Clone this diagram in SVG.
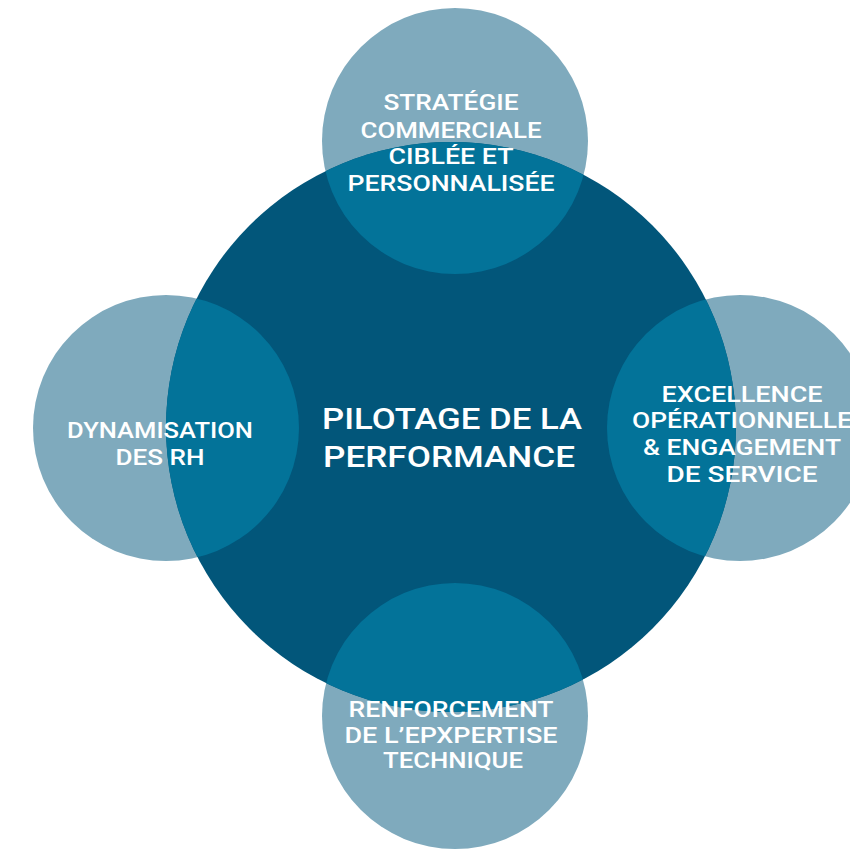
<svg xmlns="http://www.w3.org/2000/svg" width="850" height="849" viewBox="0 0 850 849">
<style>
.light{fill:#7faabd}
.dark{fill:#02567a}
.ov{fill:#037399}
text{font-family:Roboto,"Liberation Sans",sans-serif;fill:#ffffff;text-anchor:middle;font-weight:500}
.s{font-size:22px}
.m{font-size:29px}
</style>
<defs>
<clipPath id="bigclip"><circle cx="451" cy="427" r="285"/></clipPath>
</defs>
<rect width="850" height="849" fill="#ffffff"/>
<g id="small-circles">
<circle class="light" cx="455" cy="141" r="133"/>
<circle class="light" cx="166" cy="428" r="133"/>
<circle class="light" cx="740" cy="428" r="133"/>
<circle class="light" cx="455" cy="716" r="133"/>
</g>
<g id="center">
<circle class="dark" cx="451" cy="427" r="285"/>
</g>
<g id="overlaps" clip-path="url(#bigclip)">
<circle class="ov" cx="455" cy="141" r="133"/>
<circle class="ov" cx="166" cy="428" r="133"/>
<circle class="ov" cx="740" cy="428" r="133"/>
<circle class="ov" cx="455" cy="716" r="133"/>
</g>
<g id="center-label">
<text class="m" x="452" y="429" textLength="260" lengthAdjust="spacingAndGlyphs">PILOTAGE DE LA</text>
<text class="m" x="449" y="467" textLength="252" lengthAdjust="spacingAndGlyphs">PERFORMANCE</text>
</g>
<g id="node-top">
<text class="s" x="451" y="110" textLength="135" lengthAdjust="spacingAndGlyphs">STRATÉGIE</text>
<text class="s" x="451" y="138" textLength="181" lengthAdjust="spacingAndGlyphs">COMMERCIALE</text>
<text class="s" x="451" y="164" textLength="125" lengthAdjust="spacingAndGlyphs">CIBLÉE ET</text>
<text class="s" x="451" y="191" textLength="207" lengthAdjust="spacingAndGlyphs">PERSONNALISÉE</text>
</g>
<g id="node-right">
<text class="s" x="742" y="402" textLength="161" lengthAdjust="spacingAndGlyphs">EXCELLENCE</text>
<text class="s" x="742" y="428" textLength="220" lengthAdjust="spacingAndGlyphs">OPÉRATIONNELLE</text>
<text class="s" x="742" y="455" textLength="198" lengthAdjust="spacingAndGlyphs">&amp; ENGAGEMENT</text>
<text class="s" x="742" y="482" textLength="151" lengthAdjust="spacingAndGlyphs">DE SERVICE</text>
</g>
<g id="node-left">
<text class="s" x="160" y="438" textLength="186" lengthAdjust="spacingAndGlyphs">DYNAMISATION</text>
<text class="s" x="160" y="465" textLength="89" lengthAdjust="spacingAndGlyphs">DES RH</text>
</g>
<g id="node-bottom">
<text class="s" x="451" y="717" textLength="205" lengthAdjust="spacingAndGlyphs">RENFORCEMENT</text>
<text class="s" x="451" y="743" textLength="213" lengthAdjust="spacingAndGlyphs">DE L’EPXPERTISE</text>
<text class="s" x="453" y="768" textLength="140" lengthAdjust="spacingAndGlyphs">TECHNIQUE</text>
</g>
<g id="connectors"></g>
</svg>
